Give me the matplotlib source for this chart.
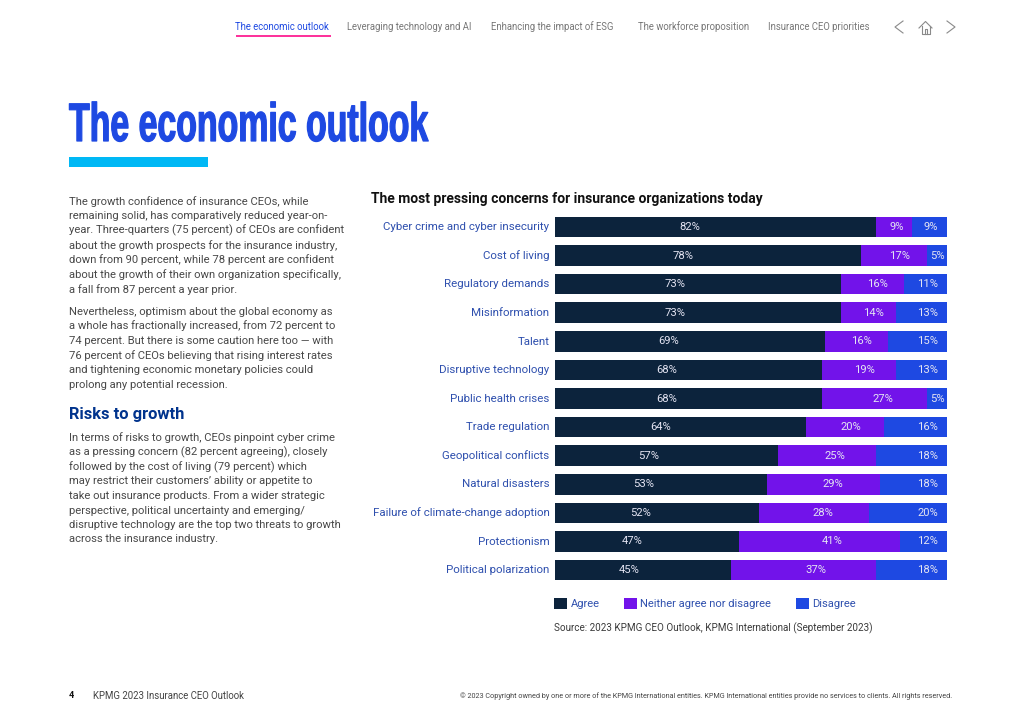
import matplotlib
matplotlib.use("Agg")
import matplotlib.pyplot as plt
from matplotlib.lines import Line2D
from matplotlib.patches import Rectangle
from matplotlib.patheffects import AbstractPathEffect
from matplotlib.transforms import Affine2D, ScaledTranslation
import numpy as np

W, H = 1024, 724
BODY = ["Roboto", "Liberation Sans", "DejaVu Sans"]
plt.rcParams["font.family"] = BODY

categories = ["Cyber crime and cyber insecurity", "Cost of living", "Regulatory demands",
              "Misinformation", "Talent", "Disruptive technology", "Public health crises",
              "Trade regulation", "Geopolitical conflicts", "Natural disasters",
              "Failure of climate-change adoption", "Protectionism", "Political polarization"]
# Printed values
agree = [82, 78, 73, 73, 69, 68, 68, 64, 57, 53, 52, 47, 45]
neither = [9, 17, 16, 14, 16, 19, 27, 20, 25, 29, 28, 41, 37]
disagree = [9, 5, 11, 13, 15, 13, 5, 16, 18, 18, 20, 12, 18]
# Drawn bar lengths: the source draws "Natural disasters" slightly off its printed values
agree_drawn = [82, 78, 73, 73, 69, 68, 68, 64, 57, 54, 52, 47, 45]
disagree_drawn = [9, 5, 11, 13, 15, 13, 5, 16, 18, 17, 20, 12, 18]
series_names = ["Agree", "Neither agree nor disagree", "Disagree"]
series_colors = ["#0C233C", "#7213EA", "#1E49E2"]

nav_items = [("The economic outlook", 235, "#1E49E2"), ("Leveraging technology and AI", 347, "#777777"),
             ("Enhancing the impact of ESG", 491, "#777777"), ("The workforce proposition", 638, "#777777"),
             ("Insurance CEO priorities", 768, "#777777")]
para1 = ["The growth confidence of insurance CEOs, while", "remaining solid, has comparatively reduced year-on-",
         "year. Three-quarters (75 percent) of CEOs are confident", "about the growth prospects for the insurance industry,",
         "down from 90 percent, while 78 percent are confident", "about the growth of their own organization specifically,",
         "a fall from 87 percent a year prior."]
para2 = ["Nevertheless, optimism about the global economy as", "a whole has fractionally increased, from 72 percent to",
         "74 percent. But there is some caution here too \u2014 with", "76 percent of CEOs believing that rising interest rates",
         "and tightening economic monetary policies could", "prolong any potential recession."]
para3 = ["In terms of risks to growth, CEOs pinpoint cyber crime", "as a pressing concern (82 percent agreeing), closely",
         "followed by the cost of living (79 percent) which", "may restrict their customers\u2019 ability or appetite to",
         "take out insurance products. From a wider strategic", "perspective, political uncertainty and emerging/",
         "disruptive technology are the top two threats to growth", "across the insurance industry."]

fig = plt.figure(figsize=(W / 100, H / 100), dpi=100, facecolor="white")

def ptext(x, y, s, **kw):
    kw.setdefault("va", "center")
    kw.setdefault("ha", "left")
    return fig.text(x / W, 1 - y / H, s, **kw)

def pline(xs, ys, **kw):
    fig.add_artist(Line2D([x / W for x in xs], [1 - y / H for y in ys], transform=fig.transFigure, **kw))

def prect(x, y, w, h, color):
    fig.add_artist(Rectangle((x / W, 1 - (y + h) / H), w / W, h / H, transform=fig.transFigure, color=color, lw=0))

class Condense(AbstractPathEffect):
    """Squeeze glyph outlines horizontally about x0 and thicken them a little."""
    def __init__(self, x0, sx, lw):
        super().__init__()
        self.x0, self.sx, self.lw = x0, sx, lw
    def draw_path(self, renderer, gc, tpath, affine, rgbFace):
        gc0 = renderer.new_gc()
        gc0.copy_properties(gc)
        gc0.set_linewidth(self.lw)
        gc0.set_foreground(rgbFace)
        tr = affine + Affine2D().translate(-self.x0, 0).scale(self.sx, 1).translate(self.x0, 0)
        renderer.draw_path(gc0, tpath, tr, rgbFace)
        gc0.restore()

# Navigation
for s, x, c in nav_items:
    ptext(x, 27, s, fontsize=6.85, color=c)
prect(236, 35.5, 95, 1.5, "#FD349C")
pline([903, 895, 903], [21, 27, 33], color="#8A8A8A", lw=0.8)
pline([947, 955, 947], [21, 27, 33], color="#8A8A8A", lw=0.8)
pline([919, 925.5, 932], [28, 21.5, 28], color="#8A8A8A", lw=0.8)
pline([921.5, 921.5, 929.5, 929.5], [26, 34, 34, 26], color="#8A8A8A", lw=0.8)
pline([924.5, 924.5, 926.5, 926.5], [34, 29, 29, 34], color="#8A8A8A", lw=0.8)

# Title
title = ptext(69, 127, "The economic outlook", fontsize=39, fontweight="bold", color="#1E49E2",
              family=["Liberation Sans", "DejaVu Sans"])
title.set_path_effects([Condense(69, 0.625, 0.9)])
prect(69, 157, 138.5, 9.5, "#00B8F5")

# Body text
for lines, ys in [(para1, [201.5, 216, 230.7, 245.3, 260, 274.5, 289.2]),
                  (para2, [311.5, 326, 340.7, 355.3, 370, 384.5]),
                  (para3, [438, 452.5, 467, 481.5, 496, 510.5, 525, 539.5])]:
    for s, y in zip(lines, ys):
        ptext(69, y, s, fontsize=8.1, color="#484848")
ptext(69, 414.5, "Risks to growth", fontsize=11.9, fontweight="bold", color="#00338D")

# Chart
ptext(371, 198.5, "The most pressing concerns for insurance organizations today",
      fontsize=10, fontweight="bold", color="#111111")

left, right, top, bottom = 555, 947, 212.7, 584.3
ax = fig.add_axes([left / W, 1 - bottom / H, (right - left) / W, (bottom - top) / H])
y = np.arange(len(categories))
a, n, d = np.array(agree), np.array(neither), np.array(disagree)
a_len, d_len = np.array(agree_drawn), np.array(disagree_drawn)
b1 = ax.barh(y, a_len, height=0.72, color=series_colors[0], label=series_names[0])
b2 = ax.barh(y, n, left=a_len, height=0.72, color=series_colors[1], label=series_names[1])
b3 = ax.barh(y, d_len, left=a_len + n, height=0.72, color=series_colors[2], label=series_names[2])
ax.set_xlim(0, 100)
ax.set_ylim(len(categories) - 0.5, -0.5)
ax.set_yticks(y, categories, fontsize=8.25, color="#2F50AE")
ax.tick_params(axis="y", length=0, pad=4)
shift = ScaledTranslation(0, 0.8 / 100, fig.dpi_scale_trans)
for tl in ax.get_yticklabels():
    tl.set_transform(tl.get_transform() + shift)
ax.xaxis.set_visible(False)
for sp in ax.spines.values():
    sp.set_visible(False)

lab = dict(va="center", fontsize=8.1, color="#E4E4F2")
for i in y:
    ax.text(a_len[i] * 0.42, i, f"{a[i]}%", ha="center", **lab)
    ax.text(a_len[i] + n[i] * 0.58, i, f"{n[i]}%", ha="center", **lab)
    if d[i] < 6:
        ax.text(a_len[i] + n[i] + d_len[i] * 0.5, i, f"{d[i]}%", ha="center", **lab)
    else:
        ax.text(97.7, i, f"{d[i]}%", ha="right", **lab)

leg = ax.legend(handles=[b1, b2, b3], ncols=3, loc="upper left",
                bbox_to_anchor=((554 - left) / (right - left), (bottom - 597.8) / (bottom - top)),
                frameon=False, fontsize=8, labelcolor="#2F50AE", borderaxespad=0, borderpad=0,
                handlelength=1.2, handleheight=1.2, handletextpad=0.28, columnspacing=2.2)

ptext(554, 628.5, "Source: 2023 KPMG CEO Outlook, KPMG International (September 2023)",
      fontsize=7.15, color="#3A3A3A")

# Footer
ptext(69, 696, "4", fontsize=6.6, fontweight="bold", color="#111111")
ptext(93, 696, "KPMG 2023 Insurance CEO Outlook", fontsize=6.9, color="#444444")
ptext(952, 696, "\u00a9 2023 Copyright owned by one or more of the KPMG International entities. KPMG International entities provide no services to clients. All rights reserved.",
      fontsize=5.23, color="#444444", ha="right")

fig.savefig("out.png", dpi=100, facecolor="white")
